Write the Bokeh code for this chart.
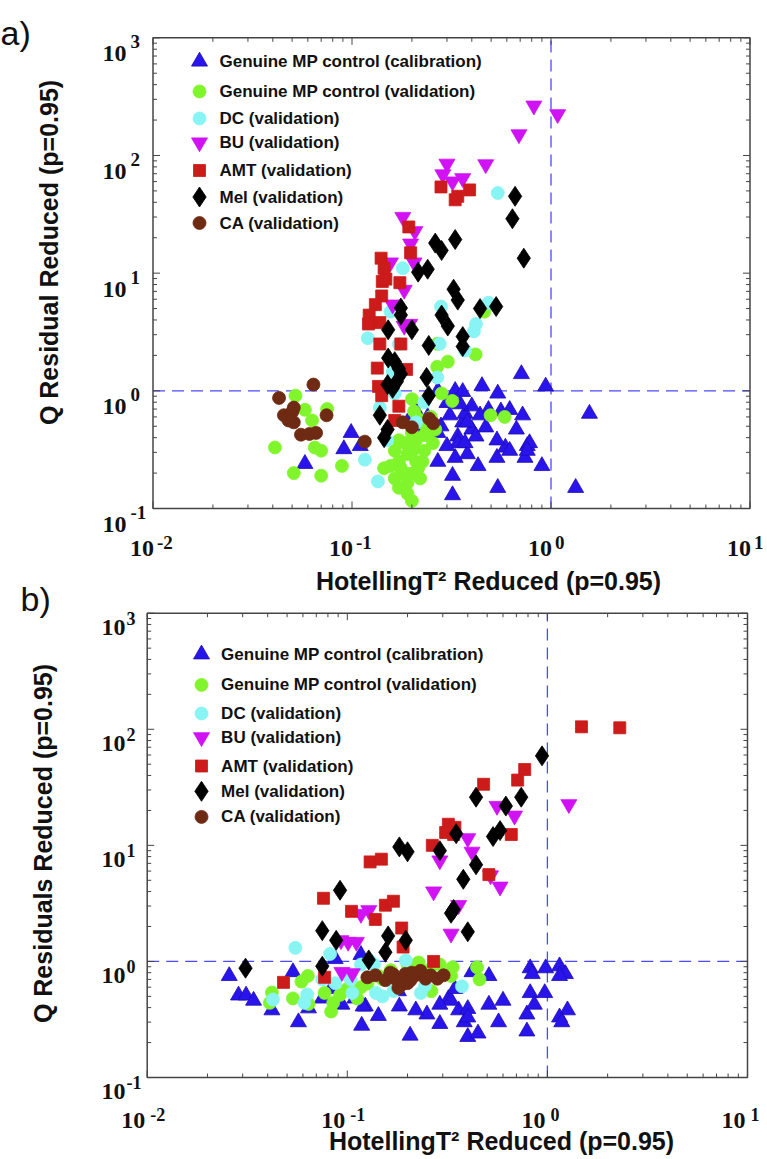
import math
from bokeh.plotting import figure
from bokeh.models import Range1d, LogScale
from bokeh.embed import file_html
from bokeh.resources import INLINE
from bokeh.core.properties import value

# ---------------- axes / labels ----------------
X_LIM = (0.01, 10.0)
Y_LIM = (0.1, 1000.0)
X_TICKS = [0.01, 0.1, 1, 10]
X_EXP = ["-2", "-1", "0", "1"]
Y_TICKS = [0.1, 1, 10, 100, 1000]
Y_EXP = ["-1", "0", "1", "2", "3"]
X_MINOR = [m * 10.0 ** e for e in range(-2, 1) for m in range(2, 10)]
Y_MINOR = [m * 10.0 ** e for e in range(-1, 3) for m in range(2, 10)]

LEGEND_LABELS = ["Genuine MP control (calibration)", "Genuine MP control (validation)",
                 "DC (validation)", "BU (validation)", "AMT (validation)",
                 "Mel (validation)", "CA (validation)"]
X_TITLE = "HotellingT\u00b2 Reduced (p=0.95)"
Y_TITLE_A = "Q Residual Reduced (p=0.95)"
Y_TITLE_B = "Q Residuals Reduced (p=0.95)"
T2_LIMIT = 1.0
Q_LIMIT = 1.0

# ---------------- panel a data ----------------
A_CAL_X = [0.058, 0.099, 0.091, 0.11, 1.56, 1.33, 0.94, 0.71, 0.45, 0.54,
           0.32, 0.32, 0.54, 0.90, 0.27, 0.33, 0.38, 0.43, 0.535, 0.74,
           0.76, 0.67, 0.59, 0.535, 0.62, 0.72, 0.485, 0.44, 0.40, 0.36,
           0.34, 0.37, 0.33, 0.36, 0.30, 0.28, 0.34, 0.30, 0.37, 0.62,
           0.56, 0.40, 0.35, 0.31, 0.38, 0.27, 0.19, 0.215, 0.24, 0.78,
           0.42, 0.27, 0.21, 0.76, 0.47]
A_CAL_Y = [0.24, 0.44, 0.32, 0.34, 0.64, 0.15, 1.09, 1.39, 1.10, 0.95,
           0.13, 0.19, 0.15, 0.23, 0.25, 0.27, 0.29, 0.23, 0.27, 0.27,
           0.34, 0.47, 0.33, 0.38, 0.69, 0.62, 0.69, 0.62, 0.47, 0.54,
           0.41, 0.64, 1.0, 0.98, 0.79, 0.50, 0.36, 0.34, 0.36, 0.31,
           0.67, 0.74, 0.77, 0.62, 0.54, 1.0, 0.54, 0.47, 0.60, 0.36,
           0.41, 0.44, 0.67, 0.31, 0.49]
A_VAL_X = [0.041, 0.051, 0.070, 0.089, 0.065, 0.070, 0.052, 0.058, 0.063, 0.075,
           0.172, 0.164, 0.190, 0.210, 0.176, 0.164, 0.190, 0.220, 0.190, 0.200,
           0.172, 0.185, 0.210, 0.200, 0.231, 0.231, 0.215, 0.156, 0.145, 0.181,
           0.172, 0.195, 0.205, 0.226,
           0.200, 0.205, 0.215, 0.231, 0.249, 0.262, 0.255, 0.243,
           0.268, 0.268, 0.303, 0.282, 0.319, 0.418, 0.462, 0.497, 0.585]
A_VAL_Y = [0.33, 0.20, 0.19, 0.23, 0.33, 0.31, 0.91, 0.69, 0.56, 0.70,
           0.38, 0.31, 0.29, 0.25, 0.22, 0.18, 0.165, 0.18, 0.134, 0.116,
           0.25, 0.36, 0.38, 0.44, 0.42, 0.31, 0.22, 0.23, 0.22, 0.20,
           0.15, 0.197, 0.32, 0.25,
           0.85, 0.67, 0.58, 0.52, 0.60, 0.47, 0.36, 0.44,
           2.51, 1.60, 1.77, 0.95, 0.82, 2.04, 4.71, 0.62, 0.60]
A_DC_X = [0.54, 0.18, 0.485, 0.42, 0.41, 0.28, 0.276, 0.37, 0.12, 0.156,
          0.16, 0.138, 0.268, 0.116, 0.135, 0.231, 0.15, 0.164, 0.172, 0.21]
A_DC_Y = [48, 11, 5.6, 3.7, 3.2, 5.2, 2.51, 2.2, 2.8, 4.7,
          1.44, 0.72, 1.3, 0.26, 0.17, 0.80, 0.38, 0.95, 2.5, 0.54]
A_BU_X = [0.82, 1.08, 0.69, 0.47, 0.30, 0.286, 0.32, 0.36, 0.18, 0.207,
          0.197, 0.156, 0.205, 0.183, 0.16, 0.183, 0.195]
A_BU_Y = [265, 224, 151, 84, 85, 69, 60, 64, 30, 22.7,
          17.8, 12.3, 12.3, 7.2, 5.4, 3.56, 3.7]
A_AMT_X = [0.28, 0.33, 0.34, 0.39, 0.193, 0.197, 0.14, 0.142, 0.148, 0.174,
           0.141, 0.131, 0.122, 0.121, 0.138, 0.176, 0.134, 0.188, 0.136, 0.141,
           0.172, 0.164, 0.138, 0.145]
A_AMT_Y = [54, 42, 45, 51, 24.7, 14.9, 13.4, 8.5, 8.9, 8.3,
           6.4, 5.4, 4.4, 3.7, 2.5, 2.5, 1.56, 1.52, 1.09, 0.91,
           0.74, 0.56, 3.8, 11]
A_MEL_X = [0.66, 0.64, 0.73, 0.262, 0.282, 0.33, 0.215, 0.24, 0.324, 0.34,
           0.53, 0.44, 0.282, 0.303, 0.36, 0.36, 0.243, 0.176, 0.176, 0.152,
           0.20, 0.152, 0.164, 0.172, 0.176, 0.237, 0.151, 0.16, 0.168, 0.243,
           0.138, 0.151, 0.145]
A_MEL_Y = [45, 29, 13.4, 18, 15.6, 19.3, 10.2, 10.8, 7.3, 5.9,
           5.2, 5.0, 4.4, 3.55, 2.89, 2.38, 2.43, 5.05, 4.4, 3.3,
           3.3, 1.9, 1.77, 1.54, 1.39, 1.3, 1.13, 1.05, 1.2, 0.91,
           0.62, 0.47, 0.40]
A_CA_X = [0.043, 0.064, 0.0455, 0.0502, 0.051, 0.048, 0.0554, 0.0611, 0.066, 0.0745,
          0.116, 0.051, 0.18, 0.244, 0.256, 0.20]
A_CA_Y = [0.87, 1.13, 0.62, 0.667, 0.54, 0.56, 0.424, 0.43, 0.439, 0.62,
          0.37, 0.72, 0.54, 0.58, 0.53, 0.49]

# ---------------- panel b data ----------------
B_CAL_X = [0.0257, 0.0286, 0.0312, 0.034, 0.042, 0.057, 0.0535, 0.064, 0.087, 0.094,
           0.118, 0.123, 0.143, 0.182, 0.206, 0.25, 0.29, 0.32, 0.36, 0.384,
           0.40, 0.45, 0.51, 0.57, 0.60, 0.51, 0.79, 0.79, 0.82, 0.84,
           0.82, 0.86, 0.98, 0.97, 1.15, 1.23, 1.15, 1.26, 1.15, 1.18,
           0.40, 0.33, 0.083, 0.109, 0.117, 0.075, 0.22, 0.29, 0.42, 0.345,
           0.12, 0.18, 0.40]
B_CAL_Y = [0.75, 0.51, 0.51, 0.46, 0.38, 0.30, 0.81, 0.395, 1.05, 0.425,
           0.28, 0.41, 0.34, 0.41, 0.23, 0.35, 0.29, 0.475, 0.38, 0.30,
           0.224, 0.24, 0.425, 0.30, 0.46, 0.75, 0.25, 0.35, 0.875, 0.78,
           0.535, 0.425, 0.875, 0.535, 0.91, 0.78, 0.75, 0.38, 0.33, 0.30,
           0.39, 0.46, 0.58, 0.48, 1.14, 0.48, 0.38, 0.425, 0.81, 0.58,
           0.41, 0.555, 0.33]
B_VAL_X = [0.042, 0.041, 0.0535, 0.059, 0.0635, 0.064, 0.083, 0.077, 0.085, 0.092,
           0.117, 0.126, 0.143, 0.165, 0.20, 0.227, 0.256, 0.29, 0.336, 0.33,
           0.445, 0.458, 0.263, 0.182, 0.112, 0.10, 0.15]
B_VAL_Y = [0.54, 0.44, 0.48, 0.67, 0.75, 0.43, 0.37, 0.535, 0.44, 0.515,
           0.60, 0.645, 0.75, 0.84, 0.94, 0.98, 0.84, 0.94, 0.89, 0.75,
           0.89, 0.70, 0.555, 0.645, 0.48, 0.58, 0.70]
B_DC_X = [0.055, 0.082, 0.0425, 0.063, 0.061, 0.087, 0.104, 0.106, 0.129, 0.136,
          0.15, 0.139, 0.17, 0.196, 0.233, 0.245, 0.374, 0.173, 0.117, 0.075]
B_DC_Y = [1.31, 1.16, 0.47, 0.52, 0.44, 0.65, 0.70, 0.535, 1.02, 0.94,
          0.50, 0.535, 0.555, 1.02, 0.535, 0.62, 0.61, 0.645, 0.94, 0.70]
B_BU_X = [1.28, 0.56, 0.685, 0.40, 0.42, 0.29, 0.52, 0.58, 0.27, 0.36,
          0.128, 0.117, 0.33, 0.093, 0.101, 0.111, 0.094, 0.106]
B_BU_Y = [22.6, 21.8, 18, 11.5, 8.8, 7.4, 5.5, 4.4, 4.0, 3.05,
          2.76, 2.56, 1.73, 1.52, 1.47, 1.47, 0.81, 0.79]
B_AMT_X = [1.48, 2.30, 0.77, 0.71, 0.48, 0.66, 0.32, 0.345, 0.31, 0.34,
           0.266, 0.13, 0.148, 0.51, 0.076, 0.105, 0.155, 0.17, 0.138, 0.187,
           0.19, 0.27, 0.077, 0.048]
B_AMT_Y = [105, 103, 45, 36.5, 33.6, 12.4, 15.2, 14.3, 12.9, 12.4,
           10, 7.2, 7.6, 5.6, 3.5, 2.7, 3.05, 3.3, 2.3, 1.94,
           1.33, 1.0, 0.73, 0.66]
B_MEL_X = [0.94, 0.44, 0.62, 0.74, 0.535, 0.58, 0.35, 0.182, 0.20, 0.29,
           0.44, 0.38, 0.092, 0.33, 0.34, 0.40, 0.075, 0.088, 0.16, 0.196,
           0.155, 0.128, 0.075, 0.031]
B_MEL_Y = [59, 26, 21.8, 26, 11.9, 13.4, 12.6, 9.7, 8.8, 9.0,
           6.8, 5.1, 4.1, 2.6, 2.8, 1.8, 1.84, 1.52, 1.66, 1.52,
           1.2, 1.03, 0.91, 0.875]
B_CA_X = [0.126, 0.138, 0.155, 0.164, 0.174, 0.185, 0.195, 0.207, 0.219, 0.232,
          0.246, 0.261, 0.282, 0.303, 0.18, 0.20, 0.17, 0.21]
B_CA_Y = [0.73, 0.76, 0.69, 0.80, 0.71, 0.62, 0.78, 0.69, 0.76, 0.83,
          0.71, 0.76, 0.71, 0.76, 0.59, 0.65, 0.77, 0.80]

# ---------------- styles / layout (pixels in the canvas) ----------------
STYLES = [  # marker, size, fill, line
    ("triangle", 16, "#2a14ec", "#1c0cb4"),
    ("circle", 13, "#80f52c", "#80f52c"),
    ("circle", 13, "#88f4f4", "#88f4f4"),
    ("inverted_triangle", 16, "#d012f5", "#d012f5"),
    ("square", 12, "#cc1b1b", "#cc1b1b"),
    ("diamond", 20, "#000000", "#000000"),
    ("circle", 13, "#6e2a12", "#6e2a12"),
]
SERIF = "Liberation Serif"
SANS = "Liberation Sans"
FRAME_COLOR = "#444444"
LIMIT_COLOR = "#4a4aff"
TEXT_COLOR = "#111111"
W, H = 767, 1159

PANEL_A = dict(box=(152.5, 749.5, 37.3, 508.0),          # left, right, top, bottom
               legend=(199.0, 219.0, [61, 91, 118, 142, 170, 196.5, 222.5]),
               xlab=(1, 548, 4, 542), ylab=(126, 16, 130, 4), exp_size="19px",
               ytitle=(48, 252, Y_TITLE_A), xtitle=(488, 580), tag=("a)", 0, 32))
PANEL_B = dict(box=(146.7, 747.0, 612.7, 1077.0),
               legend=(201.0, 220.6, [653.8, 684.4, 713, 736.8, 765.5, 790.8, 816.4]),
               xlab=(-2, 1120, 3, 1114), ylab=(125, 14, 126, 5), exp_size="18px",
               ytitle=(42.5, 843, Y_TITLE_B), xtitle=(501, 1140), tag=("b)", 20, 598))


def log_ranges(box):
    left, right, top, bottom = box
    lx0, lx1 = math.log10(X_LIM[0]), math.log10(X_LIM[1])
    ly0, ly1 = math.log10(Y_LIM[0]), math.log10(Y_LIM[1])
    ppx = (right - left) / (lx1 - lx0)
    ppy = (bottom - top) / (ly1 - ly0)
    xr = Range1d(10 ** (lx0 - left / ppx), 10 ** (lx1 + (W - right) / ppx))
    yr = Range1d(10 ** (ly0 - (H - bottom) / ppy), 10 ** (ly1 + top / ppy))
    return xr, yr


p = figure(width=W, height=H, x_range=Range1d(0, W), y_range=Range1d(H, 0),
           min_border=0, x_axis_location=None, y_axis_location=None,
           toolbar_location=None, output_backend="svg")
p.outline_line_color = None
p.grid.visible = False
p.background_fill_color = "white"
p.border_fill_color = "white"

xa, ya = log_ranges(PANEL_A["box"])
xb, yb = log_ranges(PANEL_B["box"])
p.extra_x_ranges = {"ax": xa, "bx": xb}
p.extra_y_ranges = {"ay": ya, "by": yb}
p.extra_x_scales = {"ax": LogScale(), "bx": LogScale()}
p.extra_y_scales = {"ay": LogScale(), "by": LogScale()}


def draw_panel(xr, yr, cfg, series):
    kw = dict(x_range_name=xr, y_range_name=yr)
    # limit lines
    p.segment(x0=[T2_LIMIT], y0=[Y_LIM[0]], x1=[T2_LIMIT], y1=[Y_LIM[1]],
              line_color=LIMIT_COLOR, line_dash="12 7", line_width=1.3, **kw)
    p.segment(x0=[X_LIM[0]], y0=[Q_LIMIT], x1=[X_LIM[1]], y1=[Q_LIMIT],
              line_color=LIMIT_COLOR, line_dash="12 7", line_width=1.3, **kw)
    # data
    for (xs, ys), (mk, sz, fc, lc) in zip(series, STYLES):
        p.scatter(xs, ys, marker=mk, size=sz, fill_color=fc, line_color=lc,
                  line_width=0.8, **kw)
    # box and inward ticks
    p.quad(left=[X_LIM[0]], right=[X_LIM[1]], bottom=[Y_LIM[0]], top=[Y_LIM[1]],
           fill_color=None, line_color=FRAME_COLOR, line_width=1.5, **kw)
    tick = dict(length_units="screen", line_color=FRAME_COLOR, line_width=1, **kw)
    for ticks, ln in ((X_TICKS, 7), (X_MINOR, 4)):
        p.ray(x=ticks, y=[Y_LIM[0]] * len(ticks), length=ln, angle=math.pi / 2, **tick)
        p.ray(x=ticks, y=[Y_LIM[1]] * len(ticks), length=ln, angle=-math.pi / 2, **tick)
    for ticks, ln in ((Y_TICKS, 7), (Y_MINOR, 4)):
        p.ray(x=[X_LIM[0]] * len(ticks), y=ticks, length=ln, angle=0.0, **tick)
        p.ray(x=[X_LIM[1]] * len(ticks), y=ticks, length=ln, angle=math.pi, **tick)
    # legend
    mx, tx, lys = cfg["legend"]
    for (mk, sz, fc, lc), yy in zip(STYLES, lys):
        p.scatter([mx], [yy], marker=mk, size=sz, fill_color=fc, line_color=lc, line_width=0.8)
    p.text([tx] * len(LEGEND_LABELS), lys, text=LEGEND_LABELS,
           text_font=value(SANS), text_font_style="bold", text_font_size="17px",
           text_baseline="middle", text_align="left", text_color=TEXT_COLOR)
    # tick labels
    bdx, by, edx, ey = cfg["xlab"]
    p.text(x=X_TICKS, y=[by] * len(X_TICKS), text=["10"] * len(X_TICKS),
           x_offset=bdx, x_range_name=xr,
           text_font=value(SERIF), text_font_style="bold", text_font_size="24px",
           text_align="right", text_baseline="middle", text_color=TEXT_COLOR)
    p.text(x=X_TICKS, y=[ey] * len(X_TICKS), text=X_EXP,
           x_offset=edx, x_range_name=xr,
           text_font=value(SERIF), text_font_style="bold", text_font_size=cfg["exp_size"],
           text_align="left", text_baseline="middle", text_color=TEXT_COLOR)
    bx, bdy, ex, edy = cfg["ylab"]
    p.text(x=[bx] * len(Y_TICKS), y=Y_TICKS, text=["10"] * len(Y_TICKS), y_offset=bdy,
           y_range_name=yr, text_font=value(SERIF), text_font_style="bold",
           text_font_size="24px", text_align="right", text_baseline="middle",
           text_color=TEXT_COLOR)
    p.text(x=[ex] * len(Y_TICKS), y=Y_TICKS, text=Y_EXP, y_offset=edy,
           y_range_name=yr, text_font=value(SERIF), text_font_style="bold",
           text_font_size=cfg["exp_size"], text_align="left", text_baseline="middle",
           text_color=TEXT_COLOR)
    # titles
    tx_, ty_, ytext = cfg["ytitle"]
    p.text(x=[tx_], y=[ty_], text=[ytext], angle=math.pi / 2,
           text_font=value(SANS), text_font_style="bold", text_font_size="25px",
           text_align="center", text_baseline="middle", text_color=TEXT_COLOR)
    xx_, xy_ = cfg["xtitle"]
    p.text(x=[xx_], y=[xy_], text=[X_TITLE],
           text_font=value(SANS), text_font_style="bold", text_font_size="25px",
           text_align="center", text_baseline="middle", text_color=TEXT_COLOR)
    tag, gx, gy = cfg["tag"]
    p.text(x=[gx], y=[gy], text=[tag], text_font=value(SANS), text_font_size="34px",
           text_align="left", text_baseline="alphabetic", text_color=TEXT_COLOR)


draw_panel("ax", "ay", PANEL_A,
           [(A_CAL_X, A_CAL_Y), (A_VAL_X, A_VAL_Y), (A_DC_X, A_DC_Y), (A_BU_X, A_BU_Y),
            (A_AMT_X, A_AMT_Y), (A_MEL_X, A_MEL_Y), (A_CA_X, A_CA_Y)])
draw_panel("bx", "by", PANEL_B,
           [(B_CAL_X, B_CAL_Y), (B_VAL_X, B_VAL_Y), (B_DC_X, B_DC_Y), (B_BU_X, B_BU_Y),
            (B_AMT_X, B_AMT_Y), (B_MEL_X, B_MEL_Y), (B_CA_X, B_CA_Y)])

open("out.html", "w").write(file_html(p, INLINE))
